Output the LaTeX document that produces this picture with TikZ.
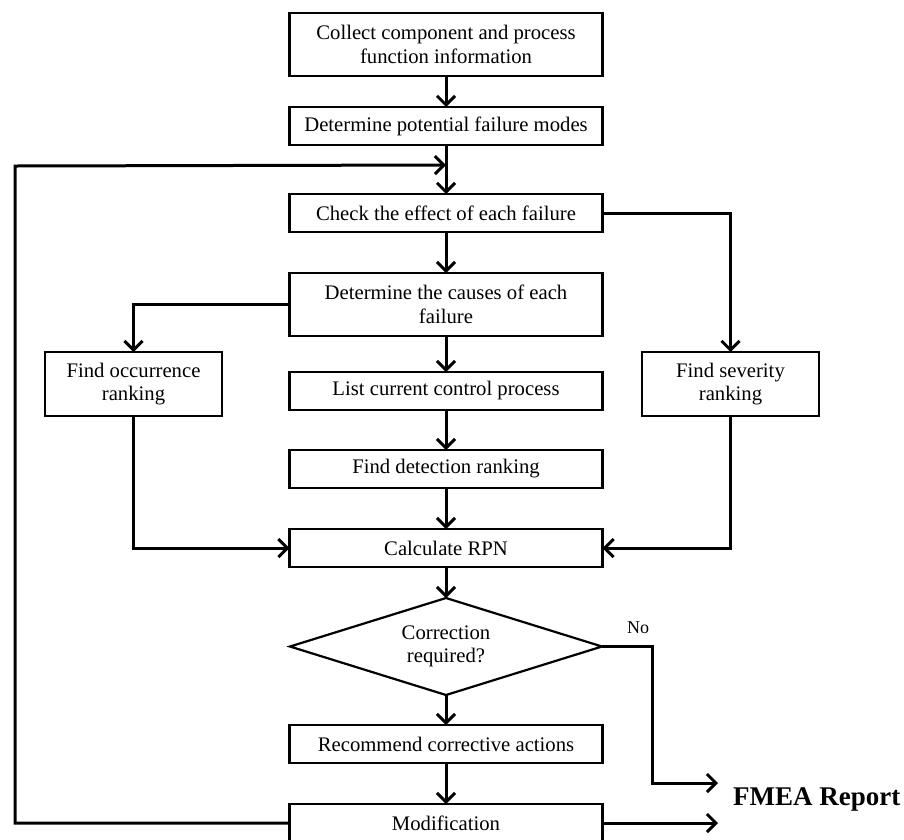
\documentclass[tikz,border=0pt]{standalone}
\usepackage{fontspec}
\setmainfont{Liberation Serif}
\usetikzlibrary{arrows.meta,positioning,shapes.geometric,calc}

\begin{document}
\begin{tikzpicture}[
  x=1pt,y=-1pt,
  box/.style={draw,line width=2.2pt,minimum width=313pt,minimum height=38pt,inner sep=2pt,outer sep=0pt,align=center,font=\fontsize{20.7}{23.5}\selectfont},
  tallbox/.style={box,minimum height=63pt},
  sidebox/.style={box,minimum width=177pt,minimum height=64pt},
  decision/.style={diamond,draw,line width=2.2pt,minimum width=312pt,minimum height=97pt,aspect=3.2,inner sep=0pt,outer sep=0pt,align=center,font=\fontsize{20.7}{23.5}\selectfont},
  edge/.style={-{Straight Barb[length=9pt,width=18pt]},line width=3pt}
]
\useasboundingbox (0,0) rectangle (904,839);
\node[tallbox] (collect) at (446,44.5) {Collect component and process\\function information};
\node[box,below=31pt of collect] (modes) {Determine potential failure modes};
\node[box,below=49pt of modes] (check) {Check the effect of each failure};
\node[tallbox,below=41pt of check] (causes) {Determine the causes of each\\failure};
\node[box,below=36pt of causes] (list) {List current control process};
\node[box,below=40pt of list] (detect) {Find detection ranking};
\node[box,below=41pt of detect] (calc) {Calculate RPN};
\node[decision,below=31pt of calc] (decide) {Correction\\required?};
\node[box,below=30pt of decide] (recommend) {Recommend corrective actions};
\node[box,below=41pt of recommend] (modif) {Modification};
\node[sidebox] (occur) at (133.5,384) {Find occurrence\\ranking};
\node[sidebox] (severity) at (730.5,384) {Find severity\\ranking};
\node[font=\fontsize{18}{20}\selectfont] (nolabel) at (638,628) {No};
\node[anchor=base west,inner sep=0pt,font=\bfseries\fontsize{27}{30}\selectfont] (report) at (733,805) {FMEA Report};
\coordinate (loopin) at ([yshift=-20pt]modes.south);
\coordinate (loopcorner) at (15,166);
\coordinate (nobend) at (652,783);
\coordinate (reporttip) at (718,783);
\draw[edge] (collect) -- (modes);
\draw[edge] (modes) -- (check);
\draw[edge] (check) -- (causes);
\draw[edge] (causes) -- (list);
\draw[edge] (list) -- (detect);
\draw[edge] (detect) -- (calc);
\draw[edge] (check.east) -| (severity.north);
\draw[edge] (causes.west) -| (occur.north);
\draw[edge] (occur.south) |- (calc.west);
\draw[edge] (severity.south) |- (calc.east);
\draw[edge] (calc) -- (decide);
\draw[edge] (decide) -- (recommend);
\draw[edge] (recommend) -- (modif);
\draw[edge] (decide.east) -| (nobend) -- (reporttip);
\draw[edge] (modif.east) -- (modif.east -| reporttip);
\draw[edge] (modif.west) -| (loopcorner) -- (loopin);
\end{tikzpicture}
\end{document}
